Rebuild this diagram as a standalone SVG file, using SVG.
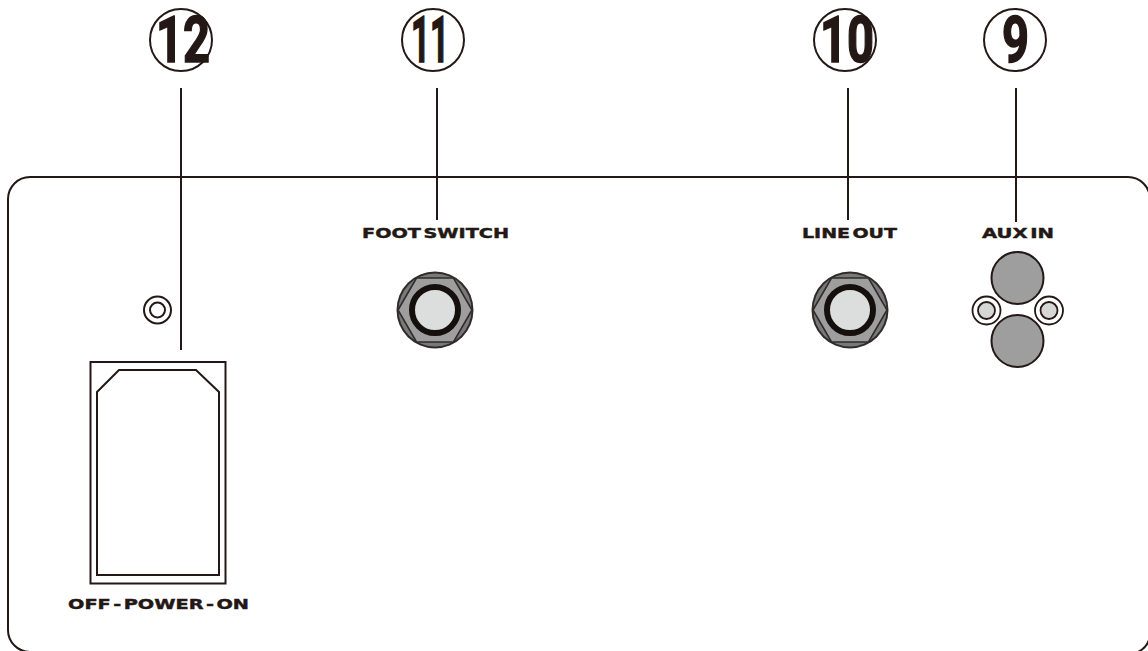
<svg xmlns="http://www.w3.org/2000/svg" width="1148" height="651" viewBox="0 0 1148 651">
<style>
.l{fill:none;stroke:#231815;stroke-width:2}
.n{font-family:Roboto,"Liberation Sans",sans-serif;font-weight:700;font-size:65px;fill:#231815;stroke:#231815;stroke-width:1.6}
.t{font-family:"DejaVu Sans",sans-serif;font-weight:700;font-size:13.5px;fill:#231815;stroke:#231815;stroke-width:.4;word-spacing:-3px}
</style>
<defs>
<g id="jack">
<circle r="38.5" fill="#2f2c2b"/>
<circle r="36.5" fill="#7a7979"/>
<polygon points="-37,0 -18.5,-32 18.5,-32 37,0 18.5,32 -18.5,32" fill="#9e9e9f" stroke="#2f2c2b" stroke-width="1.6"/>
<circle r="23" fill="#dcdddd" stroke="#150f0d" stroke-width="6"/>
</g>
<g id="small">
<circle r="14" fill="#fff" stroke="#231815" stroke-width="1.8"/>
<circle r="8.5" fill="#d6d6d6" stroke="#231815" stroke-width="1.8"/>
</g>
</defs>
<g id="panel"><path class="l" d="M30 652A22 22 0 0 1 8 630V199A22 22 0 0 1 30 177H1128A22 22 0 0 1 1150 199"/><path class="l" d="M1150 636A22 22 0 0 1 1138 652"/></g>
<g id="connectors">
<path class="l" d="M181 88V350M437 88V220M848 88V220M1016 88V222"/>
</g>
<g id="n12"><circle class="l" cx="181" cy="40" r="31"/><text class="n" x="156" y="62" textLength="54" lengthAdjust="spacingAndGlyphs">12</text></g>
<g id="n11"><circle class="l" cx="433" cy="40" r="31"/><text class="n" x="411" y="62" textLength="38" lengthAdjust="spacingAndGlyphs">11</text></g>
<g id="n10"><circle class="l" cx="845" cy="40" r="31"/><text class="n" x="820" y="62" textLength="54" lengthAdjust="spacingAndGlyphs">10</text></g>
<g id="n9"><circle class="l" cx="1015" cy="40" r="31"/><text class="n" x="1002" y="62" textLength="27" lengthAdjust="spacingAndGlyphs">9</text></g>
<g id="footswitch"><text class="t" x="362" y="238" textLength="147" lengthAdjust="spacingAndGlyphs">FOOT SWITCH</text><use href="#jack" x="435" y="310"/></g>
<g id="lineout"><text class="t" x="802" y="238" textLength="95" lengthAdjust="spacingAndGlyphs">LINE OUT</text><use href="#jack" x="850" y="310"/></g>
<g id="auxin"><text class="t" x="982" y="238" textLength="72" lengthAdjust="spacingAndGlyphs">AUX IN</text>
<circle cx="1017.5" cy="278" r="26" fill="#9e9e9f" stroke="#231815" stroke-width="2"/>
<circle cx="1017.5" cy="341" r="26" fill="#9e9e9f" stroke="#231815" stroke-width="2"/>
<use href="#small" x="986.5" y="310.5"/><use href="#small" x="1049" y="310.5"/></g>
<g id="screw"><circle class="l" cx="157.5" cy="310" r="13.5"/><circle class="l" cx="157.5" cy="310" r="7.5"/></g>
<g id="power">
<rect class="l" x="90.5" y="362" width="135" height="221.5"/>
<path class="l" d="M97 392L119 370H196L219 392V575H97Z"/>
<text class="t" x="68" y="609" textLength="181" lengthAdjust="spacingAndGlyphs">OFF - POWER - ON</text>
</g>
</svg>
